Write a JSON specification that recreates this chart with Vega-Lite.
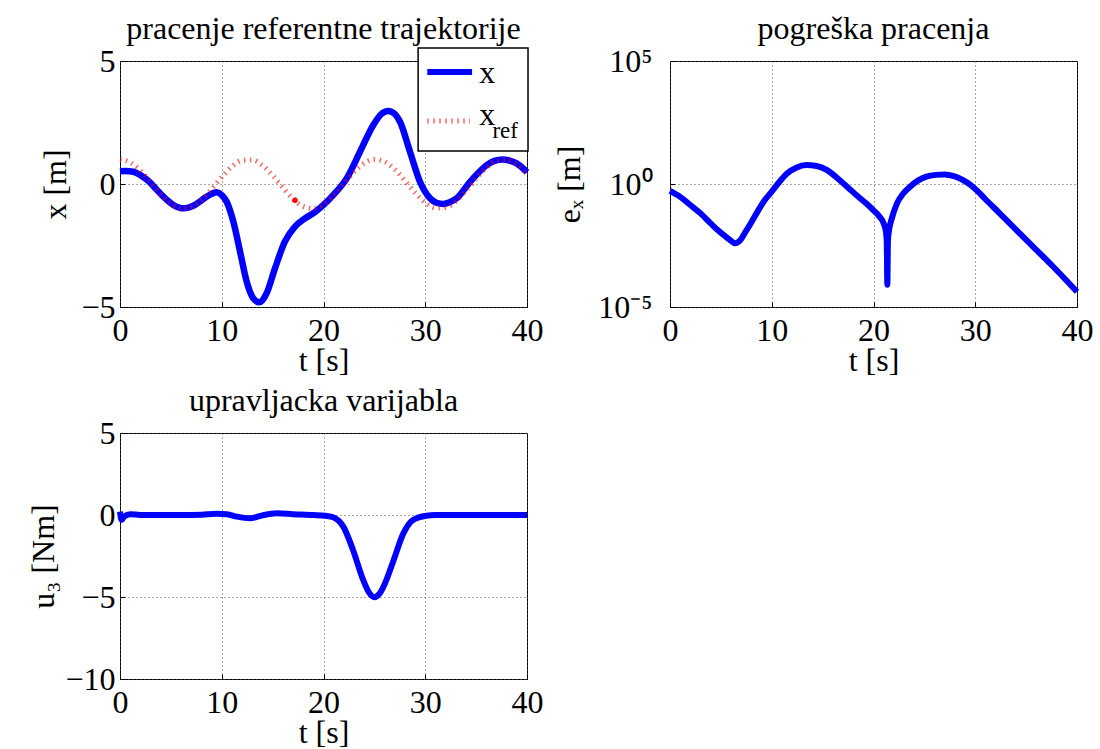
{
  "$schema": "https://vega.github.io/schema/vega-lite/v6.json",
  "background": "white",
  "padding": {"left": 27, "top": 12, "right": 0, "bottom": 0},
  "config": {
    "font": "Liberation Serif",
    "view": {"stroke": "black", "strokeWidth": 1},
    "axis": {
      "labelFont": "Liberation Serif", "labelFontSize": 32, "labelColor": "black",
      "titleFont": "Liberation Serif", "titleFontSize": 32, "titleFontWeight": "normal", "titleColor": "black",
      "domain": false, "grid": true, "gridColor": "#555555", "gridDash": [1, 3], "gridWidth": 1, "gridOpacity": 1,
      "ticks": true, "tickColor": "black", "tickSize": -5, "tickWidth": 1,
      "labelFlush": false, "labelOverlap": false, "labelBound": false
    },
    "axisX": {"labelPadding": 13, "titlePadding": -1},
    "axisY": {"labelPadding": 10, "titlePadding": 8},
    "title": {"font": "Liberation Serif", "fontSize": 32, "fontWeight": "normal", "color": "black", "anchor": "middle", "frame": "group", "baseline": "alphabetic", "offset": -1}
  },
  "datasets": {
    "traj": [
      {"t": 0, "value": 0.52, "s": "x"}, {"t": 0.5, "value": 0.53, "s": "x"}, {"t": 1.3, "value": 0.5, "s": "x"},
      {"t": 2.0, "value": 0.36, "s": "x"}, {"t": 2.8, "value": 0.12, "s": "x"}, {"t": 3.5, "value": -0.18, "s": "x"},
      {"t": 4.1, "value": -0.45, "s": "x"}, {"t": 4.7, "value": -0.68, "s": "x"}, {"t": 5.24, "value": -0.85, "s": "x"},
      {"t": 5.8, "value": -0.96, "s": "x"}, {"t": 6.22, "value": -0.99, "s": "x"}, {"t": 6.8, "value": -0.95, "s": "x"},
      {"t": 7.37, "value": -0.85, "s": "x"}, {"t": 7.9, "value": -0.7, "s": "x"}, {"t": 8.35, "value": -0.56, "s": "x"},
      {"t": 8.9, "value": -0.42, "s": "x"}, {"t": 9.5, "value": -0.34, "s": "x"}, {"t": 10.0, "value": -0.45, "s": "x"},
      {"t": 10.48, "value": -0.72, "s": "x"}, {"t": 11.14, "value": -1.53, "s": "x"}, {"t": 11.8, "value": -2.75, "s": "x"},
      {"t": 12.45, "value": -3.97, "s": "x"}, {"t": 13.1, "value": -4.65, "s": "x"}, {"t": 13.69, "value": -4.81, "s": "x"},
      {"t": 14.41, "value": -4.44, "s": "x"}, {"t": 15.23, "value": -3.43, "s": "x"}, {"t": 16.2, "value": -2.34, "s": "x"},
      {"t": 17.2, "value": -1.73, "s": "x"}, {"t": 18.18, "value": -1.4, "s": "x"}, {"t": 19.16, "value": -1.14, "s": "x"},
      {"t": 20.0, "value": -0.85, "s": "x"}, {"t": 21.0, "value": -0.43, "s": "x"}, {"t": 22.28, "value": 0.23, "s": "x"},
      {"t": 23.59, "value": 1.31, "s": "x"}, {"t": 24.9, "value": 2.4, "s": "x"}, {"t": 25.7, "value": 2.85, "s": "x"},
      {"t": 26.37, "value": 2.97, "s": "x"}, {"t": 27.0, "value": 2.85, "s": "x"}, {"t": 27.52, "value": 2.53, "s": "x"},
      {"t": 28.5, "value": 1.31, "s": "x"}, {"t": 29.48, "value": 0.09, "s": "x"}, {"t": 30.47, "value": -0.58, "s": "x"},
      {"t": 31.1, "value": -0.76, "s": "x"}, {"t": 31.77, "value": -0.81, "s": "x"}, {"t": 32.4, "value": -0.74, "s": "x"},
      {"t": 33.09, "value": -0.58, "s": "x"}, {"t": 34.4, "value": 0.09, "s": "x"}, {"t": 35.2, "value": 0.45, "s": "x"},
      {"t": 36.04, "value": 0.77, "s": "x"}, {"t": 36.8, "value": 0.94, "s": "x"}, {"t": 37.6, "value": 1.0, "s": "x"},
      {"t": 38.3, "value": 0.95, "s": "x"}, {"t": 38.98, "value": 0.84, "s": "x"}, {"t": 40, "value": 0.48, "s": "x"},
      {"t": 0, "value": 1.0, "s": "x_ref"}, {"t": 1, "value": 0.878, "s": "x_ref"}, {"t": 2, "value": 0.54, "s": "x_ref"},
      {"t": 3, "value": 0.071, "s": "x_ref"}, {"t": 4, "value": -0.416, "s": "x_ref"}, {"t": 5, "value": -0.801, "s": "x_ref"},
      {"t": 6, "value": -0.99, "s": "x_ref"}, {"t": 7, "value": -0.936, "s": "x_ref"}, {"t": 8, "value": -0.654, "s": "x_ref"},
      {"t": 9, "value": -0.211, "s": "x_ref"}, {"t": 10, "value": 0.284, "s": "x_ref"}, {"t": 11, "value": 0.709, "s": "x_ref"},
      {"t": 12, "value": 0.96, "s": "x_ref"}, {"t": 13, "value": 0.977, "s": "x_ref"}, {"t": 14, "value": 0.754, "s": "x_ref"},
      {"t": 15, "value": 0.347, "s": "x_ref"}, {"t": 16, "value": -0.146, "s": "x_ref"}, {"t": 17, "value": -0.602, "s": "x_ref"},
      {"t": 18, "value": -0.911, "s": "x_ref"}, {"t": 19, "value": -0.997, "s": "x_ref"}, {"t": 20, "value": -0.839, "s": "x_ref"},
      {"t": 21, "value": -0.476, "s": "x_ref"}, {"t": 22, "value": 0.004, "s": "x_ref"}, {"t": 23, "value": 0.483, "s": "x_ref"},
      {"t": 24, "value": 0.844, "s": "x_ref"}, {"t": 25, "value": 0.998, "s": "x_ref"}, {"t": 26, "value": 0.907, "s": "x_ref"},
      {"t": 27, "value": 0.595, "s": "x_ref"}, {"t": 28, "value": 0.137, "s": "x_ref"}, {"t": 29, "value": -0.355, "s": "x_ref"},
      {"t": 30, "value": -0.76, "s": "x_ref"}, {"t": 31, "value": -0.978, "s": "x_ref"}, {"t": 32, "value": -0.958, "s": "x_ref"},
      {"t": 33, "value": -0.701, "s": "x_ref"}, {"t": 34, "value": -0.275, "s": "x_ref"}, {"t": 35, "value": 0.22, "s": "x_ref"},
      {"t": 36, "value": 0.66, "s": "x_ref"}, {"t": 37, "value": 0.939, "s": "x_ref"}, {"t": 38, "value": 0.989, "s": "x_ref"},
      {"t": 39, "value": 0.797, "s": "x_ref"}, {"t": 40, "value": 0.408, "s": "x_ref"}
    ],
    "dot": [{"t": 17.2, "value": -0.66}],
    "err": [
      {"t": 0, "e": 0.525}, {"t": 1, "e": 0.3}, {"t": 2, "e": 0.14}, {"t": 3, "e": 0.064}, {"t": 4, "e": 0.025},
      {"t": 4.6, "e": 0.0145}, {"t": 5.3, "e": 0.0083}, {"t": 5.9, "e": 0.0053}, {"t": 6.4, "e": 0.0039}, {"t": 6.9, "e": 0.0052},
      {"t": 7.4, "e": 0.011}, {"t": 8.0, "e": 0.028}, {"t": 8.5, "e": 0.064}, {"t": 9.2, "e": 0.19}, {"t": 10.0, "e": 0.49},
      {"t": 10.7, "e": 1.15}, {"t": 11.5, "e": 2.69}, {"t": 12.4, "e": 4.6}, {"t": 13.4, "e": 5.9}, {"t": 14.4, "e": 5.4},
      {"t": 15.4, "e": 3.72}, {"t": 16.4, "e": 1.8}, {"t": 17.4, "e": 0.78}, {"t": 18.4, "e": 0.33}, {"t": 19.3, "e": 0.16},
      {"t": 20.0, "e": 0.085}, {"t": 20.6, "e": 0.047}, {"t": 21.0, "e": 0.025}, {"t": 21.2, "e": 0.013}, {"t": 21.3, "e": 0.005},
      {"t": 21.36, "e": 0.00008}, {"t": 21.42, "e": 0.005}, {"t": 21.55, "e": 0.015}, {"t": 21.8, "e": 0.04}, {"t": 22.3, "e": 0.16},
      {"t": 22.9, "e": 0.4}, {"t": 23.6, "e": 0.78}, {"t": 24.4, "e": 1.4}, {"t": 25.2, "e": 2.0}, {"t": 26.1, "e": 2.35},
      {"t": 27.0, "e": 2.45}, {"t": 27.9, "e": 2.1}, {"t": 28.8, "e": 1.45}, {"t": 29.5, "e": 0.95}, {"t": 30.1, "e": 0.575},
      {"t": 31.0, "e": 0.24}, {"t": 32.4, "e": 0.0646}, {"t": 34.0, "e": 0.0139}, {"t": 35.7, "e": 0.0028}, {"t": 37.5, "e": 0.00051},
      {"t": 40, "e": 0.0000417}
    ],
    "u": [
      {"t": 0, "u": 0.2}, {"t": 0.15, "u": -0.3}, {"t": 0.4, "u": -0.1}, {"t": 1, "u": 0.05}, {"t": 2, "u": 0.0},
      {"t": 4, "u": 0.0}, {"t": 6, "u": 0.0}, {"t": 8, "u": 0.02}, {"t": 9.5, "u": 0.08}, {"t": 10.5, "u": 0.05},
      {"t": 11.5, "u": -0.1}, {"t": 12.8, "u": -0.2}, {"t": 14, "u": -0.02}, {"t": 15.4, "u": 0.1}, {"t": 17, "u": 0.05},
      {"t": 19, "u": 0.0}, {"t": 20.2, "u": -0.05}, {"t": 21, "u": -0.15}, {"t": 21.95, "u": -0.71}, {"t": 22.9, "u": -2.13},
      {"t": 23.9, "u": -3.96}, {"t": 24.5, "u": -4.75}, {"t": 25.0, "u": -5.02}, {"t": 25.5, "u": -4.8}, {"t": 26.04, "u": -4.17},
      {"t": 26.9, "u": -2.74}, {"t": 27.85, "u": -1.12}, {"t": 28.8, "u": -0.3}, {"t": 30.1, "u": -0.04}, {"t": 31, "u": 0.0},
      {"t": 35, "u": 0.0}, {"t": 40, "u": 0.0}
    ],
    "one": [{"k": 1}]
  },
  "columns": 2,
  "spacing": {"row": 126, "column": 143},
  "bounds": "flush",
  "concat": [
    {
      "width": 407, "height": 246,
      "title": {"text": "pracenje referentne trajektorije"},
      "layer": [
        {
          "data": {"name": "traj"},
          "transform": [{"filter": "datum.s === 'x'"}],
          "mark": {"type": "line", "color": "#0000ff", "strokeWidth": 6.5, "interpolate": "monotone"},
          "encoding": {
            "x": {"field": "t", "type": "quantitative", "scale": {"domain": [0, 40], "nice": false}, "axis": {"values": [0, 10, 20, 30, 40]}, "title": "t [s]"},
            "y": {"field": "value", "type": "quantitative", "scale": {"domain": [-5, 5], "nice": false}, "axis": {"values": [-5, 0, 5]}, "title": "x [m]"}
          }
        },
        {
          "data": {"name": "traj"},
          "transform": [{"filter": "datum.s === 'x_ref'"}],
          "mark": {"type": "line", "color": "#ff0000", "strokeWidth": 5, "strokeDash": [1.5, 4.5], "strokeCap": "butt", "opacity": 0.6, "interpolate": "monotone"},
          "encoding": {
            "x": {"field": "t", "type": "quantitative", "title": "t [s]"},
            "y": {"field": "value", "type": "quantitative", "title": "x [m]"}
          }
        },
        {
          "data": {"name": "dot"},
          "mark": {"type": "circle", "color": "#ff0000", "size": 30, "opacity": 1},
          "encoding": {
            "x": {"field": "t", "type": "quantitative", "title": "t [s]"},
            "y": {"field": "value", "type": "quantitative", "title": "x [m]"}
          }
        },
        {
          "data": {"name": "one"},
          "mark": {"type": "rect", "fill": "white", "stroke": "black", "strokeWidth": 1.5},
          "encoding": {
            "x": {"datum": 29.3, "type": "quantitative", "title": "t [s]"},
            "x2": {"datum": 40.1},
            "y": {"datum": 5.53, "type": "quantitative", "title": "x [m]"},
            "y2": {"datum": 1.34}
          }
        },
        {
          "data": {"name": "one"},
          "mark": {"type": "rule", "color": "#0000ff", "strokeWidth": 6},
          "encoding": {
            "x": {"datum": 30.2, "type": "quantitative", "title": "t [s]"},
            "x2": {"datum": 34.6},
            "y": {"datum": 4.55, "type": "quantitative", "title": "x [m]"}
          }
        },
        {
          "data": {"name": "one"},
          "mark": {"type": "rule", "color": "#ff0000", "strokeWidth": 5, "strokeDash": [1.5, 4.5], "strokeCap": "butt", "opacity": 0.6},
          "encoding": {
            "x": {"datum": 30.2, "type": "quantitative", "title": "t [s]"},
            "x2": {"datum": 34.4},
            "y": {"datum": 2.56, "type": "quantitative", "title": "x [m]"}
          }
        },
        {
          "data": {"name": "one"},
          "mark": {"type": "text", "text": "x", "align": "left", "baseline": "alphabetic", "fontSize": 32, "font": "Liberation Serif", "color": "black"},
          "encoding": {
            "x": {"datum": 35.3, "type": "quantitative", "title": "t [s]"},
            "y": {"datum": 4.1, "type": "quantitative", "title": "x [m]"}
          }
        },
        {
          "data": {"name": "one"},
          "mark": {"type": "text", "text": "x", "align": "left", "baseline": "alphabetic", "fontSize": 32, "font": "Liberation Serif", "color": "black"},
          "encoding": {
            "x": {"datum": 35.3, "type": "quantitative", "title": "t [s]"},
            "y": {"datum": 2.4, "type": "quantitative", "title": "x [m]"}
          }
        },
        {
          "data": {"name": "one"},
          "mark": {"type": "text", "text": "ref", "align": "left", "baseline": "alphabetic", "fontSize": 23, "font": "Liberation Serif", "color": "black"},
          "encoding": {
            "x": {"datum": 36.6, "type": "quantitative", "title": "t [s]"},
            "y": {"datum": 1.85, "type": "quantitative", "title": "x [m]"}
          }
        }
      ]
    },
    {
      "width": 407, "height": 246,
      "title": {"text": "pogreška pracenja"},
      "data": {"name": "err"},
      "mark": {"type": "line", "color": "#0000ff", "strokeWidth": 6, "interpolate": "monotone"},
      "encoding": {
        "x": {"field": "t", "type": "quantitative", "scale": {"domain": [0, 40], "nice": false}, "axis": {"values": [0, 10, 20, 30, 40]}, "title": "t [s]"},
        "y": {"field": "e", "type": "quantitative", "scale": {"type": "log", "domain": [0.00001, 100000], "nice": false},
              "axis": {"values": [0.00001, 1, 100000], "labelExpr": "datum.value > 10 ? '10⁵' : (datum.value < 0.1 ? '10⁻⁵' : '10⁰')", "labelPadding": 23, "titlePadding": 11}, "title": "eₓ [m]"}
      }
    },
    {
      "width": 407, "height": 246,
      "title": {"text": "upravljacka varijabla"},
      "data": {"name": "u"},
      "mark": {"type": "line", "color": "#0000ff", "strokeWidth": 6, "interpolate": "monotone"},
      "encoding": {
        "x": {"field": "t", "type": "quantitative", "scale": {"domain": [0, 40], "nice": false}, "axis": {"values": [0, 10, 20, 30, 40]}, "title": "t [s]"},
        "y": {"field": "u", "type": "quantitative", "scale": {"domain": [-10, 5], "nice": false}, "axis": {"values": [-10, -5, 0, 5], "titlePadding": 4}, "title": "u₃ [Nm]"}
      }
    }
  ]
}
